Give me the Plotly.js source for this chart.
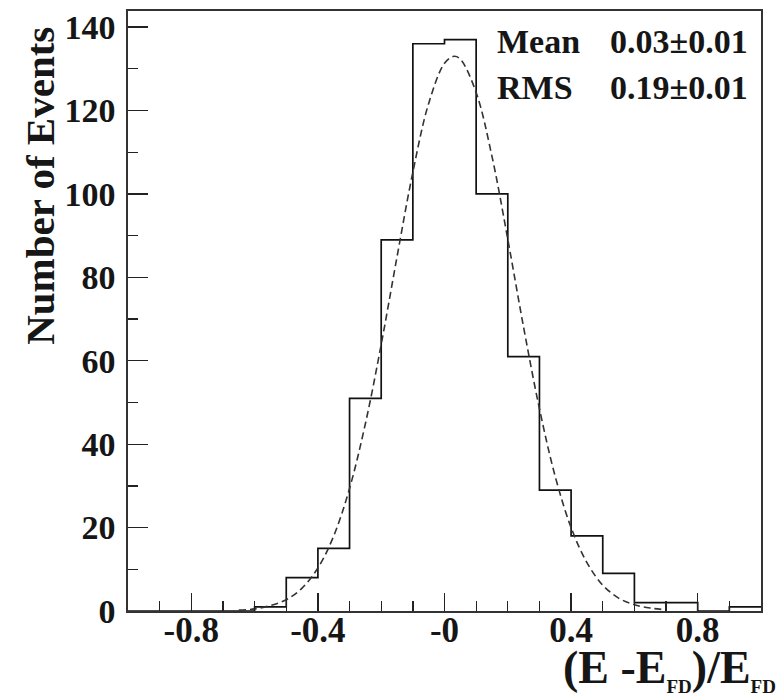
<!DOCTYPE html>
<html>
<head>
<meta charset="utf-8">
<script src="https://cdn.plot.ly/plotly-3.0.1.min.js"></script>
<style>
  html, body { margin: 0; padding: 0; background: #fff; }
  #chart { width: 782px; height: 696px; }
</style>
</head>
<body>
<div id="chart"></div>
<script>
// Histogram: lower bin edges (bin width 0.1) and counts
const binLow = [-1.0, -0.9, -0.8, -0.7, -0.6, -0.5, -0.4, -0.3, -0.2, -0.1,
                 0.0,  0.1,  0.2,  0.3,  0.4,  0.5,  0.6,  0.7,  0.8,  0.9];
const counts = [0, 0, 0, 0, 1, 8, 15, 51, 89, 136,
                137, 100, 61, 29, 18, 9, 2, 2, 0, 1];
const binUpperEnd = 1.0;

// Dashed fit curve
const fitX = [-0.65, -0.6, -0.55, -0.5, -0.45, -0.4, -0.35, -0.3, -0.25, -0.2,
              -0.15, -0.1, -0.05, 0.0, 0.03, 0.05, 0.1, 0.15, 0.2, 0.25,
               0.3, 0.35, 0.4, 0.45, 0.5, 0.55, 0.6, 0.65, 0.7];
const fitY = [0.2, 0.5, 1.3, 2.7, 5.5, 10.3, 18.0, 29.4, 44.9, 63.9,
              84.9, 105.2, 121.7, 131.3, 133.0, 132.3, 124.3, 109.0, 89.1, 68.0,
              48.5, 32.2, 20.0, 11.6, 6.2, 3.1, 1.5, 0.7, 0.3];

// Axis ticks: labelled major ticks, unlabelled long ticks, short minor ticks
const xTickVals = [-0.8, -0.4, 0.0, 0.4, 0.8];
const xTickText = ['-0.8', '-0.4', '-0', '0.4', '0.8'];
const xLongTicks = [-0.6, -0.2, 0.2, 0.6];

// Stats text
const statNames = ['Mean', 'RMS'];
const statValues = ['0.03\u00b10.01', '0.19\u00b10.01'];

const stepX = binLow.concat([binUpperEnd]);
const stepY = counts.concat([counts[counts.length - 1]]);

const FONT = 'Liberation Serif, Times New Roman, serif';
const INK = '#161616';

const traces = [
  {
    x: stepX, y: stepY, type: 'scatter', mode: 'lines',
    line: { shape: 'hv', color: '#111', width: 1.7 },
    hoverinfo: 'skip', showlegend: false
  },
  {
    x: fitX, y: fitY, type: 'scatter', mode: 'lines',
    line: { shape: 'spline', color: '#333', width: 1.6, dash: '7px,4px' },
    hoverinfo: 'skip', showlegend: false
  }
];

const ymax = Math.max(...counts) * 1.05;

const annotations = [
  {
    text: 'Number of Events', textangle: -90,
    xref: 'paper', yref: 'paper', x: -0.139, y: 0.977,
    xanchor: 'center', yanchor: 'top', showarrow: false,
    font: { family: FONT, size: 41, color: INK, weight: 'bold' }
  },
  {
    text: '(E -E<sub><span style="font-size:19px">FD</span></sub>)/E<sub><span style="font-size:19px">FD</span></sub>',
    xref: 'paper', yref: 'paper', x: 1.027, y: -0.097,
    xanchor: 'right', yanchor: 'middle', showarrow: false,
    font: { family: FONT, size: 46, color: INK, weight: 'bold' }
  }
];
const rowY = [0.95, 0.872];
for (let i = 0; i < statNames.length; i++) {
  annotations.push({
    text: statNames[i], xref: 'paper', yref: 'paper', x: 0.5798, y: rowY[i],
    xanchor: 'left', yanchor: 'middle', showarrow: false,
    font: { family: FONT, size: 34, color: INK, weight: 'bold' }
  });
  annotations.push({
    text: statValues[i], xref: 'paper', yref: 'paper', x: 0.9826, y: rowY[i],
    xanchor: 'right', yanchor: 'middle', showarrow: false,
    font: { family: FONT, size: 34, color: INK, weight: 'bold' }
  });
}

const layout = {
  width: 782, height: 696,
  margin: { l: 128, r: 21, t: 11, b: 85 },
  paper_bgcolor: '#fff', plot_bgcolor: '#fff',
  showlegend: false,
  xaxis: {
    range: [-1, 1], tickmode: 'array', tickvals: xTickVals, ticktext: xTickText,
    ticks: 'inside', ticklen: 18, tickwidth: 1.3, tickcolor: '#222',
    minor: { dtick: 0.1, tick0: 0, ticks: 'inside', ticklen: 10, tickwidth: 1.3, tickcolor: '#222' },
    showgrid: false, zeroline: false, showline: true, mirror: true,
    linecolor: '#333', linewidth: 1.6,
    tickfont: { family: FONT, size: 35, color: INK, weight: 'bold' },
    ticklabelstandoff: -13
  },
  xaxis2: {
    range: [-1, 1], overlaying: 'x', anchor: 'y', side: 'bottom',
    tickmode: 'array', tickvals: xLongTicks, showticklabels: false,
    ticks: 'inside', ticklen: 18, tickwidth: 1.3, tickcolor: '#222',
    showgrid: false, zeroline: false, showline: false
  },
  yaxis: {
    range: [0, ymax], dtick: 20, tick0: 0,
    ticks: 'inside', ticklen: 20, tickwidth: 1.3, tickcolor: '#222',
    minor: { dtick: 10, tick0: 0, ticks: 'inside', ticklen: 10, tickwidth: 1.3, tickcolor: '#222' },
    showgrid: false, zeroline: false, showline: true, mirror: true,
    linecolor: '#333', linewidth: 1.6,
    tickfont: { family: FONT, size: 34, color: INK, weight: 'bold' },
    ticklabelstandoff: 4
  },
  annotations: annotations
};

Plotly.newPlot('chart', traces, layout, { staticPlot: true, displayModeBar: false });
</script>
</body>
</html>
